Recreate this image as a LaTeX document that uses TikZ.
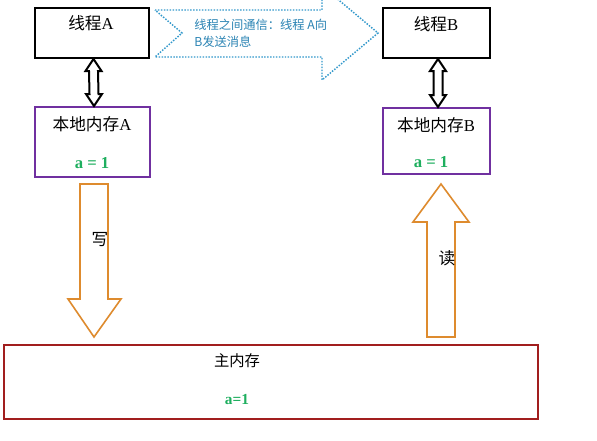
\documentclass[tikz,border=0pt]{standalone}
\usepackage{fontspec}
\setmainfont{Liberation Serif}
\newfontfamily\cjk{Noto Sans CJK SC}
\usetikzlibrary{calc}
\definecolor{dotblue}{HTML}{3399CC}
\definecolor{txtblue}{HTML}{2B84B4}
\definecolor{vgreen}{HTML}{1FAF5F}
\definecolor{lpurple}{HTML}{7030A0}
\definecolor{aorange}{HTML}{DE8B2E}
\definecolor{mred}{HTML}{A11E1E}
\tikzset{
  tbox/.style={draw=black, line width=1.5pt, rectangle, inner sep=0pt},
  lbox/.style={draw=lpurple, line width=1.5pt, rectangle, inner sep=0pt},
  mbox/.style={draw=mred, line width=1.5pt, rectangle, inner sep=0pt},
  lbl/.style={font=\fontsize{12.5pt}{14pt}\selectfont, inner sep=0pt},
  mlbl/.style={font=\fontsize{11.5pt}{13pt}\selectfont, inner sep=0pt},
  val/.style={font=\fontsize{12.5pt}{14pt}\selectfont\bfseries, text=vgreen, inner sep=0pt},
  mval/.style={font=\fontsize{11.5pt}{13pt}\selectfont\bfseries, text=vgreen, inner sep=0pt},
  blockarrow/.style={draw=aorange, line width=1.2pt, fill=white, line join=miter},
  dblarrow/.style={draw=black, line width=1.5pt, fill=white, line join=miter},
  msg/.style={font=\fontsize{9.2pt}{11pt}\selectfont\cjk, text=txtblue, inner sep=0pt, anchor=west}
}
\begin{document}
\begin{tikzpicture}[x=0.75pt,y=-0.75pt]
\clip (0,0) rectangle (597,440);
\fill[white] (0,0) rectangle (597,440);

% boxes
\node[tbox, minimum width=85.5pt, minimum height=37.5pt] (tA) at (92,33) {};
\node[tbox, minimum width=80.25pt, minimum height=37.5pt] (tB) at (436.5,33) {};
\node[lbox, minimum width=86.25pt, minimum height=52.5pt] (lA) at (92.5,142) {};
\node[lbox, minimum width=80.25pt, minimum height=49.5pt] (lB) at (436.5,141) {};
\node[mbox, minimum width=400.5pt, minimum height=55.5pt] (mm) at (271,382) {};

% texts
\node[lbl] (tAt) at (91,23) {{\cjk 线程}A};
\node[lbl] (tBt) at (436,24) {{\cjk 线程}B};
\node[lbl] (lAt) at (92,124) {{\cjk 本地内存}A};
\node[lbl] (lBt) at (436,125) {{\cjk 本地内存}B};
\node[val] (lAv) at (92,163) {a = 1};
\node[val] (lBv) at (431,162) {a = 1};
\node[mlbl] (mmt) at (237,361) {\cjk 主内存};
\node[mval] (mmv) at (237,400) {a=1};

% double arrows thread <-> local memory
\foreach \u/\l in {tA/lA, tB/lB}{
  \draw[dblarrow] ($(\u.south)+(1.5,0)$)
    -- ($(\u.south)+(9.5,12)$) -- ($(\u.south)+(6,12)$)
    -- ($(\l.north)+(6,-12)$) -- ($(\l.north)+(9.5,-12)$)
    -- ($(\l.north)+(1.5,0)$)
    -- ($(\l.north)+(-6.5,-12)$) -- ($(\l.north)+(-3,-12)$)
    -- ($(\u.south)+(-3,12)$) -- ($(\u.south)+(-6.5,12)$) -- cycle;
}

% write arrow
\draw[blockarrow] (80,184) -- (108,184) -- (108,299) -- (121,299) -- (94,337)
  -- (68,299) -- (80,299) -- cycle;
\node[lbl] (wr) at (100,240) {\cjk 写};

% read arrow
\draw[blockarrow] (441,184) -- (469,222) -- (455,222) -- (455,337) -- (427,337)
  -- (427,222) -- (413,222) -- cycle;
\node[lbl] (rd) at (447,258) {\cjk 读};

% message arrow
\draw[draw=dotblue, line width=1.1pt, dash pattern=on 1.1pt off 1.1pt]
  (155,10) -- (322,10) -- (322,-14) -- (378,33) -- (322,80) -- (322,57)
  -- (155,57) -- (182,33) -- cycle;
\node[msg] (m1) at (194,25) {线程之间通信：线程 A向};
\node[msg] (m2) at (194,42) {B发送消息};
\end{tikzpicture}
\end{document}
